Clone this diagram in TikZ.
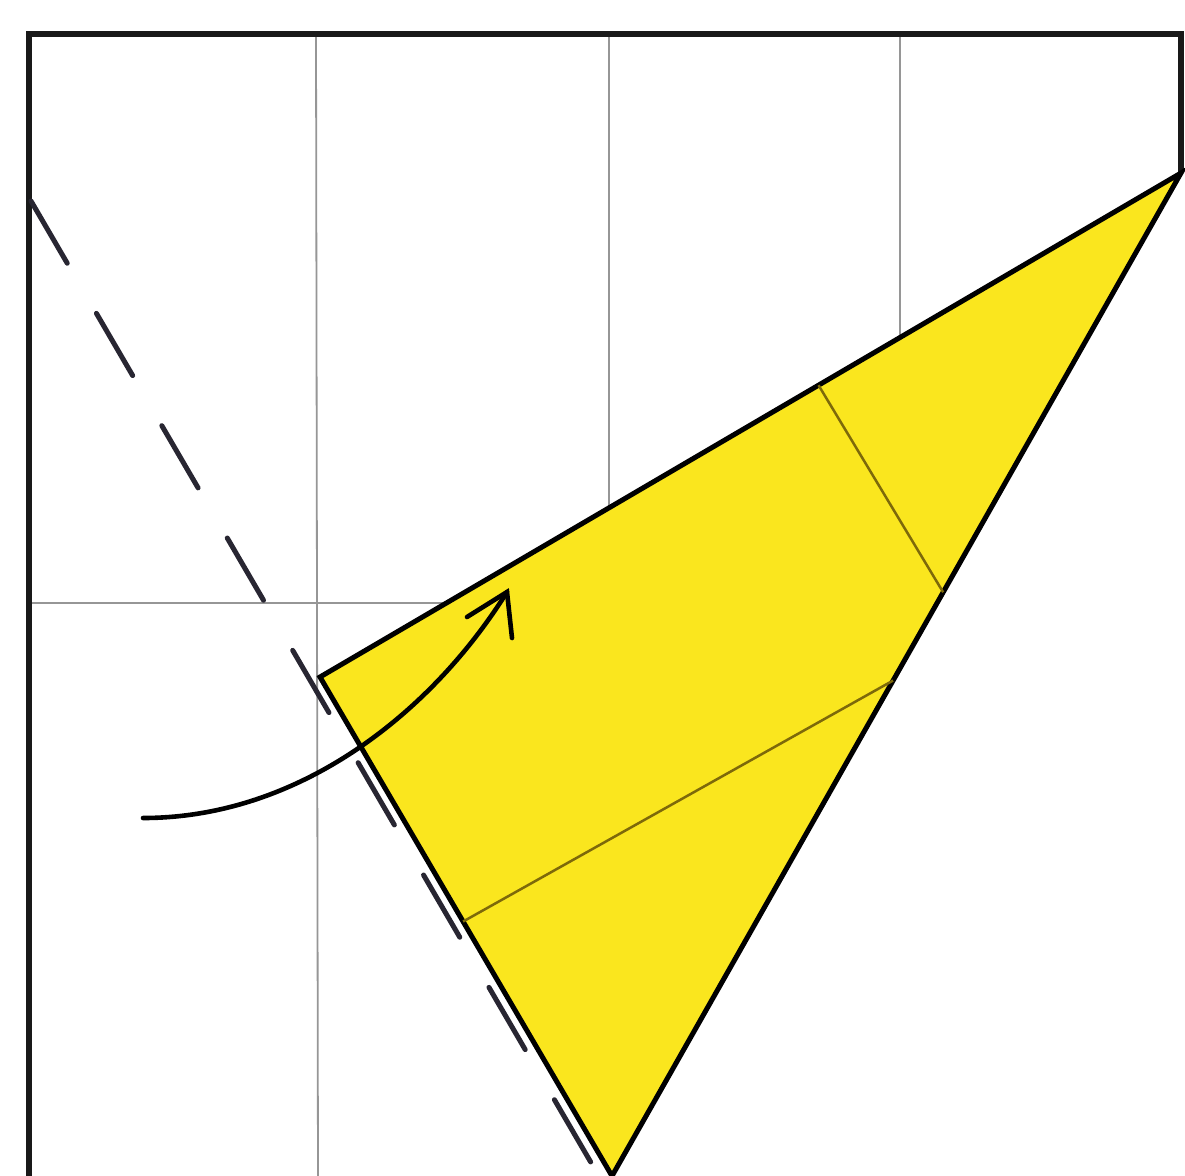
\documentclass[tikz,border=0pt]{standalone}
\usetikzlibrary{calc}
\definecolor{paperyellow}{RGB}{250,230,30}
\definecolor{creasecol}{RGB}{125,105,10}
\definecolor{gridgray}{RGB}{150,150,150}
\definecolor{dashcol}{RGB}{40,38,50}
\begin{document}
\begin{tikzpicture}[x=1pt,y=-1pt,
  edge/.style={line width=5.5pt,black!90,line join=miter},
  gridline/.style={line width=1.8pt,gridgray},
  flapedge/.style={line width=5pt,black,line join=miter},
  innercrease/.style={line width=2.5pt,creasecol},
  valley/.style={line width=5pt,dashcol,dash pattern=on 72pt off 58pt,line cap=round},
  foldarrow/.style={line width=4.6pt,black,line cap=round,line join=miter}]
\useasboundingbox (0,0) rectangle (1185,1175);
\clip (0,0) rectangle (1185,1175);
\fill[white] (0,0) rectangle (1185,1175);
% key points
\coordinate (TL) at (29,34);
\coordinate (TR) at (1181,34);
\coordinate (LB) at (29,1185);
\coordinate (A) at (320,677);
\coordinate (B) at (1181,173);
\coordinate (C) at (612,1176);
\coordinate (V1) at (316,34);
\coordinate (V1b) at (318,1185);
\coordinate (V2) at (609,34);
\coordinate (V2b) at (609,540);
\coordinate (V3) at (900,34);
\coordinate (V3b) at (900,360);
\coordinate (H1) at (29,603);
\coordinate (H1b) at (470,603);
\coordinate (D1) at (31,201);
\coordinate (D2) at (600,1178);
% grid lines
\draw[gridline] (V1) -- (V1b);
\draw[gridline] (V2) -- (V2b);
\draw[gridline] (V3) -- (V3b);
\draw[gridline] (H1) -- (H1b);
% square outline
\draw[edge] (LB) -- (TL) -- (TR) -- (B);
% valley fold line
\draw[valley] (D1) -- (D2);
% folded flap
\draw[flapedge,fill=paperyellow] (A) -- (B) -- (C) -- cycle;
\draw[innercrease] ($(A)!0.579!(B)$) -- ($(B)!0.418!(C)$);
\draw[innercrease] ($(A)!0.49!(C)$) -- ($(B)!0.506!(C)$);
% fold arrow
\coordinate (AS) at (143,818);
\coordinate (AT) at (507,592);
\draw[foldarrow] (AS) .. controls (300,818) and (432,712) .. (AT);
\draw[foldarrow] (AT) +(-40,25) -- (AT) -- +(5,46);
\end{tikzpicture}
\end{document}
